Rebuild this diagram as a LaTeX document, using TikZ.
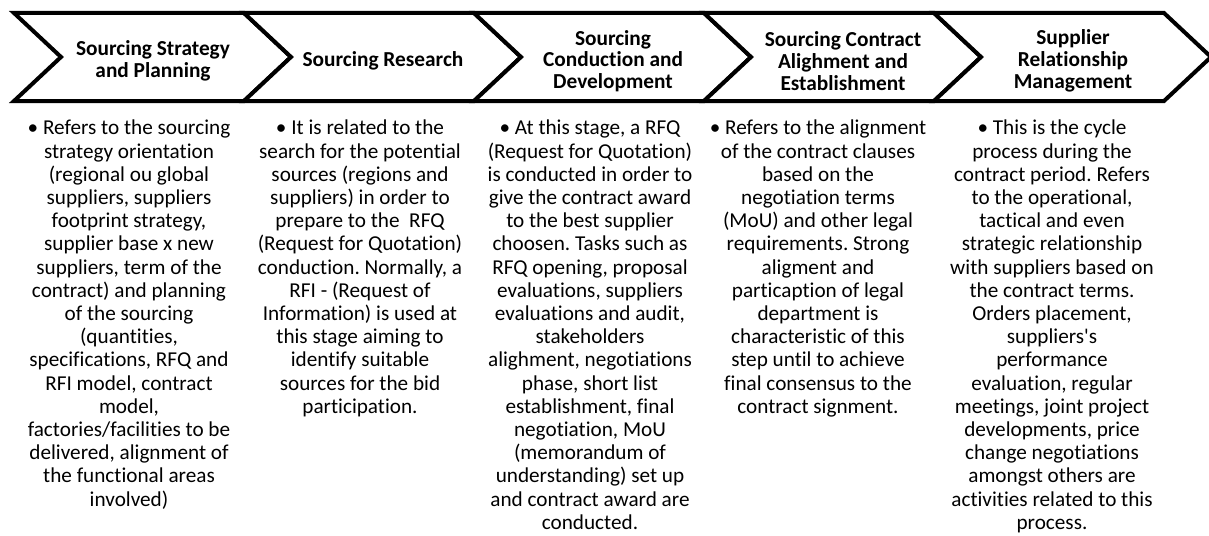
\documentclass[tikz,border=0pt]{standalone}
\usepackage{fontspec}
\setmainfont{Carlito}[Ligatures=NoCommon]
\frenchspacing
\begin{document}
\begin{tikzpicture}[x=0.75pt,y=-0.75pt,
  every node/.style={inner sep=0pt,align=center},
  chev/.style={draw=black,line width=3pt,fill=white,line join=miter},
  stage/.style={font=\bfseries\fontsize{16}{16.3}\selectfont},
  desc/.style={anchor=north,font=\fontsize{15.9}{17.4}\selectfont}]
\useasboundingbox (0,0) rectangle (1209,535);
% process chevrons
\foreach \i in {0,...,4} {
  \pgfmathsetmacro{\bx}{14+230*\i}
  \draw[chev] (\bx,13) -- ++(230,0) -- ++(47,44) -- ++(-47,44) -- ++(-230,0) -- ++(47,-44) -- cycle;
}
% stage titles
\node[stage] (plan) at (153,61) {Sourcing Strategy\\and Planning};
\node[stage] (research) at (383,61) {Sourcing Research};
\node[stage] (conduct) at (613,61) {Sourcing\\Conduction and\\Development};
\node[stage] (contract) at (843,61) {Sourcing Contract\\Alighment and\\Establishment};
\node[stage] (srm) at (1073,61) {Supplier\\Relationship\\Management};
% descriptions
\node[desc] (planTxt) at (129,120) {• Refers to the sourcing\\strategy orientation\\(regional ou global\\suppliers, suppliers\\footprint strategy,\\supplier base x new\\suppliers, term of the\\contract) and planning\\of the sourcing\\(quantities,\\specifications, RFQ and\\RFI model, contract\\model,\\factories/facilities to be\\delivered, alignment of\\the functional areas\\involved)};
\node[desc] (researchTxt) at (360,120) {• It is related to the\\search for the potential\\sources (regions and\\suppliers) in order to\\prepare to the~ RFQ\\(Request for Quotation)\\conduction. Normally, a\\RFI - (Request of\\Information) is used at\\this stage aiming to\\identify suitable\\sources for the bid\\participation.};
\node[desc] (conductTxt) at (590,120) {• At this stage, a RFQ\\(Request for Quotation)\\is conducted in order to\\give the contract award\\to the best supplier\\choosen. Tasks such as\\RFQ opening, proposal\\evaluations, suppliers\\evaluations and audit,\\stakeholders\\alighment, negotiations\\phase, short list\\establishment, final\\negotiation, MoU\\(memorandum of\\understanding) set up\\and contract award are\\conducted.};
\node[desc] (contractTxt) at (818,120) {• Refers to the alignment\\of the contract clauses\\based on the\\negotiation terms\\(MoU) and other legal\\requirements. Strong\\aligment and\\particaption of legal\\department is\\characteristic of this\\step until to achieve\\final consensus to the\\contract signment.};
\node[desc] (srmTxt) at (1052,120) {• This is the cycle\\process during the\\contract period. Refers\\to the operational,\\tactical and even\\strategic relationship\\with suppliers based on\\the contract terms.\\Orders placement,\\suppliers\textquotesingle s\\performance\\evaluation, regular\\meetings, joint project\\developments, price\\change negotiations\\amongst others are\\activities related to this\\process.};
\end{tikzpicture}
\end{document}
